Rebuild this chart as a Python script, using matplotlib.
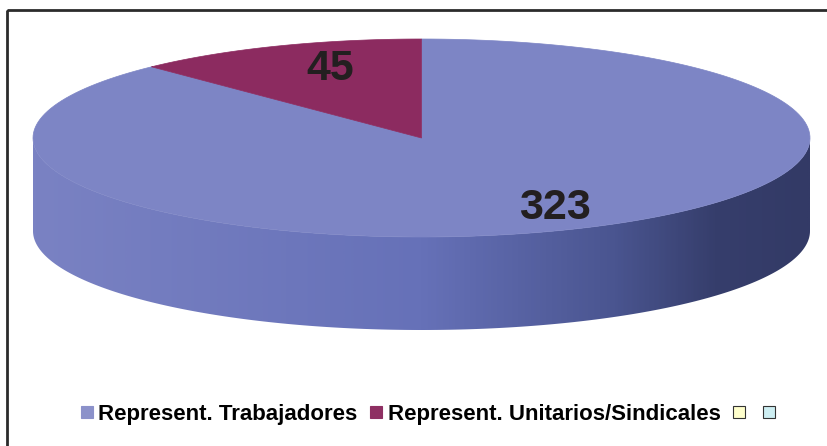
import numpy as np
import matplotlib
matplotlib.use("Agg")
import matplotlib.pyplot as plt
from matplotlib.patches import Polygon, Rectangle
from matplotlib.colors import LinearSegmentedColormap
from matplotlib.lines import Line2D

# data
categories = ["Represent. Trabajadores", "Represent. Unitarios/Sindicales", "", ""]
values = [323, 45]
top_colors = ["#7d85c5", "#8c2b60"]
legend_colors = ["#8b91ca", "#8e2f62", "#ffffcc", "#cdeef2"]

W, H = 828, 446
fig = plt.figure(figsize=(W / 100, H / 100), dpi=100)
ax = fig.add_axes([0, 0, 1, 1])
ax.set_xlim(0, W)
ax.set_ylim(H, 0)
ax.axis("off")

# pie geometry (pixels)
cx, cy = 421.5, 138.0
a, b = 388.5, 99.0
depth = 93.0

def ell(t0, t1, dy=0.0, n=200):
    t = np.radians(np.linspace(t0, t1, n))
    return np.column_stack([cx + a * np.cos(t), cy - b * np.sin(t) + dy])

# slice angles: second slice starts at 12 o'clock and runs counterclockwise
total = float(sum(values))
spans = [v / total * 360 for v in values]
start_red = 90.0
end_red = start_red + spans[1]
slices = [(end_red, end_red + spans[0]), (start_red, end_red)]

# side wall with horizontal shading
side = np.vstack([ell(180, 360), ell(360, 180, dy=depth)])
side_poly = Polygon(side, closed=True, facecolor="none", edgecolor="none")
ax.add_patch(side_poly)
shade = LinearSegmentedColormap.from_list(
    "side", [(0.0, "#7a82c3"), (0.5, "#6671b8"), (0.75, "#4a5590"),
             (0.88, "#363e6c"), (1.0, "#333a66")])
grad = np.linspace(0, 1, 400)[None, :]
im = ax.imshow(grad, cmap=shade, aspect="auto",
               extent=(cx - a, cx + a, cy + b + depth, cy), zorder=1)
im.set_clip_path(side_poly)

# top face
for (t0, t1), col in zip(slices, top_colors):
    pts = np.vstack([[cx, cy], ell(t0, t1)])
    ax.add_patch(Polygon(pts, closed=True, facecolor=col, edgecolor=col,
                         lw=0.5, zorder=2))

# value labels
label_pos = [(555, 208), (330, 69)]
for v, (x, y) in zip(values, label_pos):
    ax.text(x, y, str(v), ha="center", va="center", fontsize=31,
            fontweight="bold", color="#231f20", family="Liberation Sans",
            zorder=3)

# chart frame
ax.add_patch(Rectangle((7.5, 9.5), W, H, facecolor="none",
                       edgecolor="#2b2b2b", lw=2, zorder=4))

# legend
handles = []
for i, col in enumerate(legend_colors):
    ec = col if i < 2 else "#333333"
    handles.append(Line2D([], [], ls="none", marker="s", markersize=8,
                          markerfacecolor=col, markeredgecolor=ec,
                          markeredgewidth=0.8))
fig.legend(handles, categories, loc="center", bbox_to_anchor=(0.52, 0.071),
           ncol=4, frameon=False, handlelength=0.55, handletextpad=0.25,
           columnspacing=0.55,
           prop={"family": "Liberation Sans", "weight": "bold", "size": 16})

fig.savefig("out.png", dpi=100, facecolor="white")
